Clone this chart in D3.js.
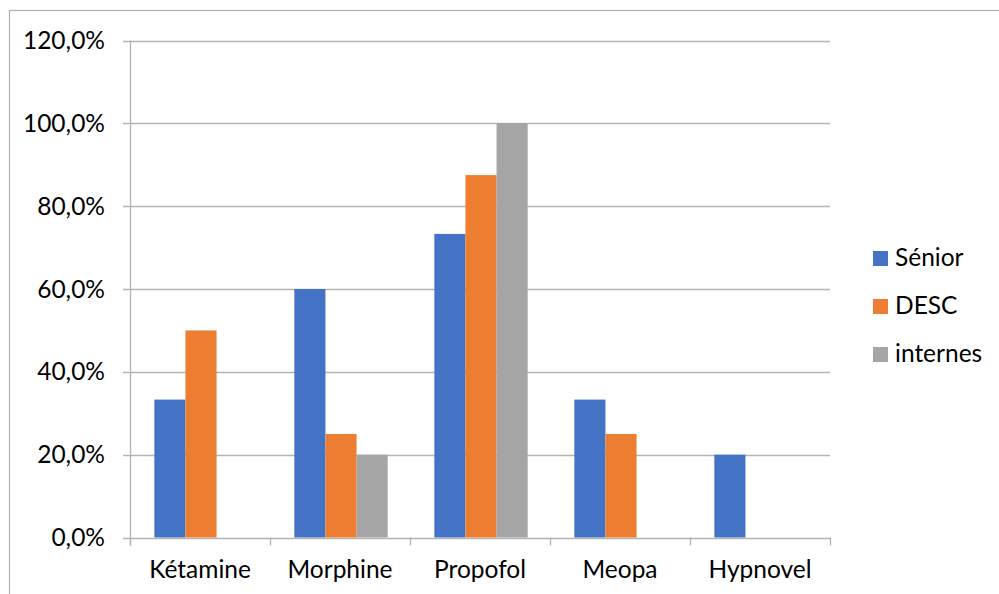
<!DOCTYPE html>
<html><head><meta charset="utf-8">
<script src="https://cdn.jsdelivr.net/npm/d3@7"></script>
<style>body{margin:0;background:#fff}svg{display:block}text{font-family:Lato,"Open Sans",sans-serif;fill:#000}</style>
</head><body><svg id="c" width="999" height="594"></svg>
<script>
const categories = ["Kétamine","Morphine","Propofol","Meopa","Hypnovel"];
const seriesNames = ["Sénior","DESC","internes"];
const senior = [33.3, 60, 73.3, 33.3, 20];
const desc = [50, 25, 87.5, 25, 0];
const internes = [0, 20, 100, 0, 0];
const yTicks = [0,20,40,60,80,100,120];
const colors = ["#4472C4","#ED7D31","#A5A5A5"];
const seriesVals = [senior, desc, internes];

const svg = d3.select("#c");
const m = {l:130, r:830, t:40.5, b:537.5};
svg.append("rect").attr("x",9.5).attr("y",10.5).attr("width",1200).attr("height",1200)
  .attr("fill","none").attr("stroke","#b0b0b0").attr("stroke-width",1.2);

const x = d3.scaleBand().domain(categories).range([m.l,m.r]);
const y = d3.scaleLinear().domain([0,120]).range([m.b,m.t]);
// gap width 150%: outer padding each side = 0.75 bar width
const xs = d3.scaleBand().domain(seriesNames).range([0,x.bandwidth()]).paddingInner(0).paddingOuter(0.75);

// gridlines
svg.append("g").selectAll("line").data(yTicks).join("line")
  .attr("x1",m.l-7).attr("x2",m.r).attr("y1",d=>Math.round(y(d))+0.5).attr("y2",d=>Math.round(y(d))+0.5)
  .attr("stroke","#b3b3b3").attr("stroke-width",1.3);

// bars
seriesNames.forEach((s,i)=>{
  svg.append("g").selectAll("rect").data(categories.map((c,j)=>({c,v:seriesVals[i][j]})).filter(d=>d.v>0)).join("rect")
    .attr("x",d=>x(d.c)+xs(s)+1).attr("width",xs.bandwidth())
    .attr("y",d=>y(d.v)).attr("height",d=>y(0)-y(d.v)).attr("fill",colors[i]);
});

// axes lines
svg.append("line").attr("x1",m.l+0.5).attr("x2",m.l+0.5).attr("y1",m.t).attr("y2",m.b+8).attr("stroke","#b3b3b3").attr("stroke-width",1.3);
const bounds = categories.map(c=>x(c)).concat([m.r]);
svg.append("g").selectAll("line").data(bounds).join("line")
  .attr("x1",d=>Math.round(d)+0.5).attr("x2",d=>Math.round(d)+0.5).attr("y1",m.b).attr("y2",m.b+8)
  .attr("stroke","#b3b3b3").attr("stroke-width",1.3);

// y labels
const fmt = d=>d.toFixed(1).replace(".",",")+"%";
svg.append("g").selectAll("text").data(yTicks).join("text")
  .attr("x",105).attr("y",d=>y(d)).attr("dy","0.35em").attr("text-anchor","end")
  .attr("font-size",24.5).text(fmt);

// x labels
svg.append("g").selectAll("text").data(categories).join("text")
  .attr("x",d=>x(d)+x.bandwidth()/2).attr("y",578).attr("text-anchor","middle")
  .attr("font-size",24.5).text(d=>d);

// legend
const lg = svg.append("g").selectAll("g").data(seriesNames).join("g")
  .attr("transform",(d,i)=>`translate(873,${251+i*48})`);
lg.append("rect").attr("width",15).attr("height",15).attr("fill",(d,i)=>colors[i]);
lg.append("text").attr("x",22).attr("y",15).attr("font-size",24.5).text(d=>d);
</script></body></html>
